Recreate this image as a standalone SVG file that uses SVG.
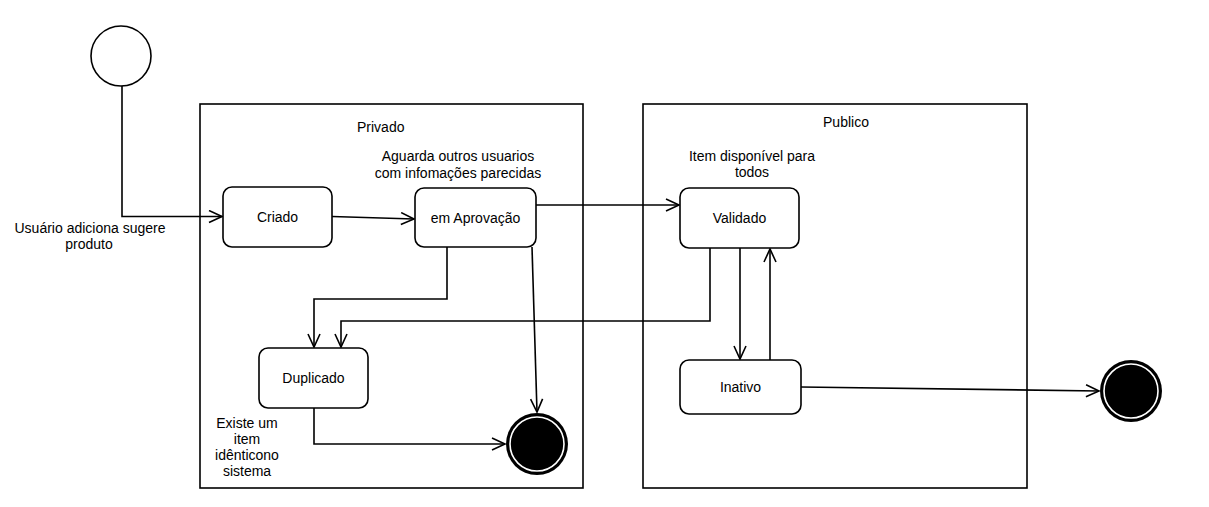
<svg xmlns="http://www.w3.org/2000/svg" width="1209" height="507" viewBox="0 0 1209 507">
<style>
text{font-family:"Liberation Sans",Arial,sans-serif;font-size:14px;fill:#000}
.c{text-anchor:middle}
.box{fill:#fff;stroke:#000;stroke-width:1.6}
.cont{fill:none;stroke:#000;stroke-width:1.6}
.edge{fill:none;stroke:#000;stroke-width:1.6;marker-end:url(#arr)}
</style>
<defs>
<marker id="arr" markerWidth="16" markerHeight="16" refX="14" refY="7" orient="auto" markerUnits="userSpaceOnUse">
<path d="M1,1 L14,7 L1,13" fill="none" stroke="#000" stroke-width="1.6"/>
</marker>
</defs>
<rect width="1209" height="507" fill="#fff"/>
<g id="privado">
<rect class="cont" x="200" y="104" width="383" height="384"/>
<text x="357" y="132">Privado</text>
</g>
<g id="publico">
<rect class="cont" x="643" y="104" width="384" height="384"/>
<text class="c" x="846" y="127">Publico</text>
</g>
<g id="connectors">
<path class="edge" d="M122,86 V216.5 H222"/>
<path class="edge" d="M332,216.5 L414,219"/>
<path class="edge" d="M536,205 H679"/>
<path class="edge" d="M447,247 V299 H314 V347"/>
<path class="edge" d="M710,248 V321 H341 V347"/>
<path class="edge" d="M532,247 L537,412"/>
<path class="edge" d="M314,408 V444 H505"/>
<path class="edge" d="M740,248 V359"/>
<path class="edge" d="M770,360 V249"/>
<path class="edge" d="M801,387 L1099,391"/>
</g>
<g id="start">
<circle cx="121" cy="56" r="30" fill="#fff" stroke="#000" stroke-width="1.6"/>
</g>
<g id="label-usuario">
<text class="c" x="90" y="233">Usuário adiciona sugere</text>
<text class="c" x="89" y="249">produto</text>
</g>
<g id="criado">
<rect class="box" x="223" y="187" width="109" height="60" rx="9"/>
<text class="c" x="277.5" y="222">Criado</text>
</g>
<g id="aprovacao">
<text class="c" x="458" y="161">Aguarda outros usuarios</text>
<text class="c" x="458" y="178">com infomações parecidas</text>
<rect class="box" x="415" y="188" width="121" height="59" rx="9"/>
<text class="c" x="475.5" y="223">em Aprovação</text>
</g>
<g id="duplicado">
<rect class="box" x="259" y="348" width="109" height="60" rx="9"/>
<text class="c" x="313.5" y="383">Duplicado</text>
<text class="c" x="247" y="428">Existe um</text>
<text class="c" x="247" y="444">item</text>
<text class="c" x="247" y="460">idênticono</text>
<text class="c" x="247" y="476">sistema</text>
</g>
<g id="end1">
<circle cx="537" cy="444" r="31" fill="#000"/>
<circle cx="537" cy="444" r="27" fill="#000" stroke="#fff" stroke-width="1.6"/>
</g>
<g id="validado">
<text class="c" x="752" y="161">Item disponível para</text>
<text class="c" x="752" y="177">todos</text>
<rect class="box" x="680" y="188" width="119" height="60" rx="9"/>
<text class="c" x="739.5" y="223">Validado</text>
</g>
<g id="inativo">
<rect class="box" x="680" y="360" width="121" height="54" rx="9"/>
<text class="c" x="740.5" y="392">Inativo</text>
</g>
<g id="end2">
<circle cx="1131" cy="391" r="31" fill="#000"/>
<circle cx="1131" cy="391" r="27" fill="#000" stroke="#fff" stroke-width="1.6"/>
</g>
</svg>
